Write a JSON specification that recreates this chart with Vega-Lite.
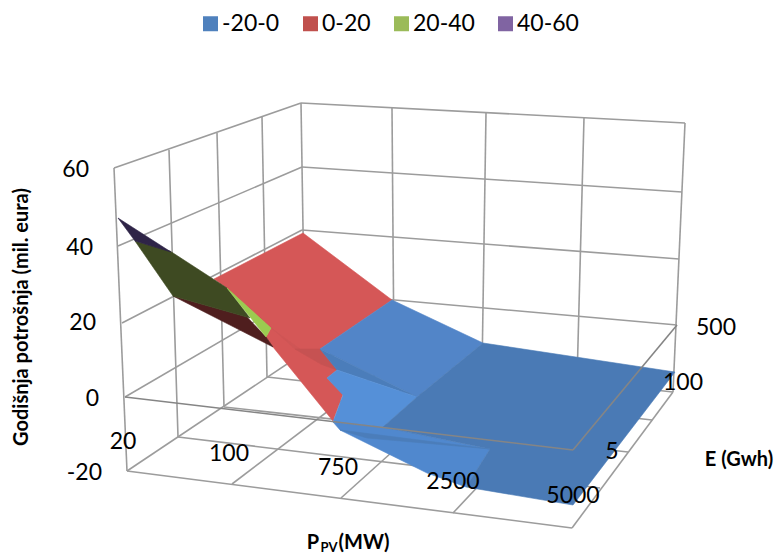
{"$schema":"https://vega.github.io/schema/vega-lite/v6.json","width":776,"height":556,"padding":0,"autosize":{"type":"fit","contains":"padding"},"background":"white","config":{"view":{"stroke":null}},
"datasets":{
"grid":[
{"a":114,"b":168,"c":127,"d":471},{"a":169,"b":150,"c":178,"d":437},{"a":217,"b":133,"c":224,"d":407},{"a":262,"b":117,"c":267,"d":377},{"a":301,"b":103,"c":305,"d":352},
{"a":392,"b":108,"c":394,"d":361},{"a":486,"b":113,"c":482,"d":371},{"a":584,"b":118,"c":577,"d":381},{"a":685,"b":123,"c":673,"d":392},
{"a":114,"b":168,"c":301,"d":103},{"a":118,"b":246,"c":302,"d":167},{"a":122,"b":323,"c":302,"d":230},{"a":125,"b":397,"c":305,"d":292},{"a":127,"b":471,"c":305,"d":352},
{"a":301,"b":103,"c":685,"d":123},{"a":302,"b":167,"c":682,"d":192},{"a":302,"b":230,"c":679,"d":259},{"a":305,"b":292,"c":677,"d":325},{"a":305,"b":352,"c":673,"d":392},
{"a":127,"b":471,"c":572,"d":528},{"a":178,"b":437,"c":600,"d":488},{"a":224,"b":407,"c":628,"d":452},{"a":267,"b":377,"c":652,"d":420},
{"a":232,"b":484,"c":394,"d":361},{"a":341,"b":498,"c":482,"d":371},{"a":453,"b":513,"c":577,"d":381},{"a":572,"b":528,"c":673,"d":392}],
"frame":[{"a":125,"b":397,"c":573,"d":450},{"a":573,"b":450,"c":677,"d":325}],
"surface":[
{"id":1,"band":"0-20 lice","i":0,"px":214,"py":279},{"id":1,"band":"0-20 lice","i":1,"px":303,"py":233},{"id":1,"band":"0-20 lice","i":2,"px":392,"py":300},{"id":1,"band":"0-20 lice","i":3,"px":320,"py":349},{"id":1,"band":"0-20 lice","i":4,"px":337,"py":370},{"id":1,"band":"0-20 lice","i":5,"px":327,"py":378},{"id":1,"band":"0-20 lice","i":6,"px":343,"py":394},{"id":1,"band":"0-20 lice","i":7,"px":333,"py":421},{"id":1,"band":"0-20 lice","i":8,"px":273,"py":347},{"id":1,"band":"0-20 lice","i":9,"px":266,"py":337},{"id":1,"band":"0-20 lice","i":10,"px":271,"py":328},{"id":1,"band":"0-20 lice","i":11,"px":227,"py":288},
{"id":2,"band":"0-20 sjena","i":0,"px":227,"py":288},{"id":2,"band":"0-20 sjena","i":1,"px":295,"py":349},{"id":2,"band":"0-20 sjena","i":2,"px":322,"py":365},{"id":2,"band":"0-20 sjena","i":3,"px":271,"py":328},
{"id":3,"band":"0-20 tamno","i":0,"px":295,"py":349},{"id":3,"band":"0-20 tamno","i":1,"px":320,"py":349},{"id":3,"band":"0-20 tamno","i":2,"px":337,"py":370},{"id":3,"band":"0-20 tamno","i":3,"px":323,"py":365},
{"id":4,"band":"-20-0 gore","i":0,"px":392,"py":300},{"id":4,"band":"-20-0 gore","i":1,"px":483,"py":343},{"id":4,"band":"-20-0 gore","i":2,"px":417,"py":397},{"id":4,"band":"-20-0 gore","i":3,"px":320,"py":349},
{"id":5,"band":"-20-0 sjena","i":0,"px":320,"py":349},{"id":5,"band":"-20-0 sjena","i":1,"px":417,"py":397},{"id":5,"band":"-20-0 sjena","i":2,"px":337,"py":370},
{"id":6,"band":"-20-0 svijetlo","i":0,"px":327,"py":378},{"id":6,"band":"-20-0 svijetlo","i":1,"px":337,"py":370},{"id":6,"band":"-20-0 svijetlo","i":2,"px":417,"py":397},{"id":6,"band":"-20-0 svijetlo","i":3,"px":383,"py":427},{"id":6,"band":"-20-0 svijetlo","i":4,"px":333,"py":422},{"id":6,"band":"-20-0 svijetlo","i":5,"px":343,"py":395},
{"id":7,"band":"-20-0 dolje","i":0,"px":333,"py":422},{"id":7,"band":"-20-0 dolje","i":1,"px":340,"py":430},{"id":7,"band":"-20-0 dolje","i":2,"px":427,"py":473},{"id":7,"band":"-20-0 dolje","i":3,"px":466,"py":487},{"id":7,"band":"-20-0 dolje","i":4,"px":490,"py":449},{"id":7,"band":"-20-0 dolje","i":5,"px":383,"py":427},
{"id":8,"band":"-20-0 tamno","i":0,"px":483,"py":343},{"id":8,"band":"-20-0 tamno","i":1,"px":675,"py":372},{"id":8,"band":"-20-0 tamno","i":2,"px":573,"py":505},{"id":8,"band":"-20-0 tamno","i":3,"px":466,"py":487},{"id":8,"band":"-20-0 tamno","i":4,"px":490,"py":449},{"id":8,"band":"-20-0 tamno","i":5,"px":383,"py":427},{"id":8,"band":"-20-0 tamno","i":6,"px":417,"py":397},
{"id":9,"band":"-20-0 sjena","i":0,"px":340,"py":430},{"id":9,"band":"-20-0 sjena","i":1,"px":490,"py":449},{"id":9,"band":"-20-0 sjena","i":2,"px":367,"py":438},
{"id":11,"band":"0-20 naličje","i":0,"px":173,"py":296},{"id":11,"band":"0-20 naličje","i":1,"px":247,"py":317},{"id":11,"band":"0-20 naličje","i":2,"px":266,"py":337},{"id":11,"band":"0-20 naličje","i":3,"px":273,"py":347},
{"id":12,"band":"20-40 naličje","i":0,"px":135,"py":241},{"id":12,"band":"20-40 naličje","i":1,"px":170,"py":251},{"id":12,"band":"20-40 naličje","i":2,"px":227,"py":288},{"id":12,"band":"20-40 naličje","i":3,"px":250,"py":318},{"id":12,"band":"20-40 naličje","i":4,"px":173,"py":296},
{"id":13,"band":"40-60 naličje","i":0,"px":118,"py":218},{"id":13,"band":"40-60 naličje","i":1,"px":171,"py":252},{"id":13,"band":"40-60 naličje","i":2,"px":135,"py":241},
{"id":14,"band":"20-40 svijetlo","i":0,"px":227,"py":288},{"id":14,"band":"20-40 svijetlo","i":1,"px":271,"py":328},{"id":14,"band":"20-40 svijetlo","i":2,"px":266,"py":337}],
"zlabels":[{"t":"60","px":89,"py":170},{"t":"40","px":93,"py":248},{"t":"20","px":96,"py":323},{"t":"0","px":99,"py":399},{"t":"-20","px":102,"py":473}],
"plabels":[{"t":"20","px":123,"py":442},{"t":"100","px":229,"py":454},{"t":"750","px":338,"py":468},{"t":"2500","px":453,"py":482},{"t":"5000","px":573,"py":496},{"t":"5","px":612,"py":452},{"t":"100","px":683,"py":383},{"t":"500","px":716,"py":328}]
},
"layer":[
{"data":{"name":"grid"},"mark":{"type":"rule","color":"#9c9c9c","strokeWidth":1.6},"encoding":{"x":{"field":"a","type":"quantitative","scale":{"domain":[0,776],"nice":false,"zero":false},"axis":null},"y":{"field":"b","type":"quantitative","scale":{"domain":[556,0],"nice":false,"zero":false},"axis":null},"x2":{"field":"c"},"y2":{"field":"d"}}},
{"data":{"name":"surface"},"mark":{"type":"line","interpolate":"linear-closed","strokeWidth":0.6},"encoding":{
"x":{"field":"px","type":"quantitative"},"y":{"field":"py","type":"quantitative"},
"detail":{"field":"id"},"order":{"field":"i","type":"quantitative"},
"fill":{"field":"band","type":"nominal","scale":{"domain":["-20-0","0-20","20-40","40-60","0-20 lice","0-20 sjena","0-20 tamno","-20-0 gore","-20-0 sjena","-20-0 svijetlo","-20-0 dolje","-20-0 tamno","20-40 svijetlo","0-20 naličje","20-40 naličje","40-60 naličje"],"range":["#4F81BD","#C0504D","#9BBB59","#8064A2","#D55757","#CF5555","#C65252","#5285C8","#4B7DBA","#5590D8","#5088CE","#4A7AB5","#9BCB50","#4F1E1E","#3E4A22","#2E2447"]},
"legend":{"values":["-20-0","0-20","20-40","40-60"],"title":null,"orient":"none","legendX":199,"legendY":12,"direction":"horizontal","columns":4,"symbolType":"square","symbolSize":225,"symbolStrokeWidth":0,"labelFont":"Lato","labelFontSize":23,"labelColor":"#000000","labelOffset":0,"columnPadding":19,"symbolOpacity":1}},
"stroke":{"field":"band","type":"nominal","legend":null,"scale":{"domain":["-20-0","0-20","20-40","40-60","0-20 lice","0-20 sjena","0-20 tamno","-20-0 gore","-20-0 sjena","-20-0 svijetlo","-20-0 dolje","-20-0 tamno","20-40 svijetlo","0-20 naličje","20-40 naličje","40-60 naličje"],"range":["#4F81BD","#C0504D","#9BBB59","#8064A2","#D55757","#CF5555","#C65252","#5285C8","#4B7DBA","#5590D8","#5088CE","#4A7AB5","#9BCB50","#4F1E1E","#3E4A22","#2E2447"]}}}},
{"data":{"name":"frame"},"mark":{"type":"rule","color":"#858585","strokeWidth":1.6},"encoding":{"x":{"field":"a","type":"quantitative"},"y":{"field":"b","type":"quantitative"},"x2":{"field":"c"},"y2":{"field":"d"}}},
{"data":{"name":"zlabels"},"mark":{"type":"text","font":"Lato","fontSize":23,"align":"right","baseline":"middle","color":"#000000"},"encoding":{"x":{"field":"px","type":"quantitative"},"y":{"field":"py","type":"quantitative"},"text":{"field":"t"}}},
{"data":{"name":"plabels"},"mark":{"type":"text","font":"Lato","fontSize":23,"align":"center","baseline":"middle","color":"#000000"},"encoding":{"x":{"field":"px","type":"quantitative"},"y":{"field":"py","type":"quantitative"},"text":{"field":"t"}}},
{"data":{"values":[{"t":"Godišnja potrošnja (mil. eura)","px":22,"py":317}]},"mark":{"type":"text","font":"Lato","fontSize":20,"fontWeight":"bold","angle":270,"align":"center","baseline":"middle","color":"#000000"},"encoding":{"x":{"field":"px","type":"quantitative"},"y":{"field":"py","type":"quantitative"},"text":{"field":"t"}}},
{"data":{"values":[{"t":"E (Gwh)","px":739,"py":460},{"t":"P","px":313,"py":543},{"t":"(MW)","px":364,"py":543}]},"mark":{"type":"text","font":"Lato","fontSize":20,"fontWeight":"bold","align":"center","baseline":"middle","color":"#000000"},"encoding":{"x":{"field":"px","type":"quantitative"},"y":{"field":"py","type":"quantitative"},"text":{"field":"t"}}},
{"data":{"values":[{"t":"PV","px":329,"py":548}]},"mark":{"type":"text","font":"Lato","fontSize":13,"fontWeight":"bold","align":"center","baseline":"middle","color":"#000000"},"encoding":{"x":{"field":"px","type":"quantitative"},"y":{"field":"py","type":"quantitative"},"text":{"field":"t"}}}
]}
